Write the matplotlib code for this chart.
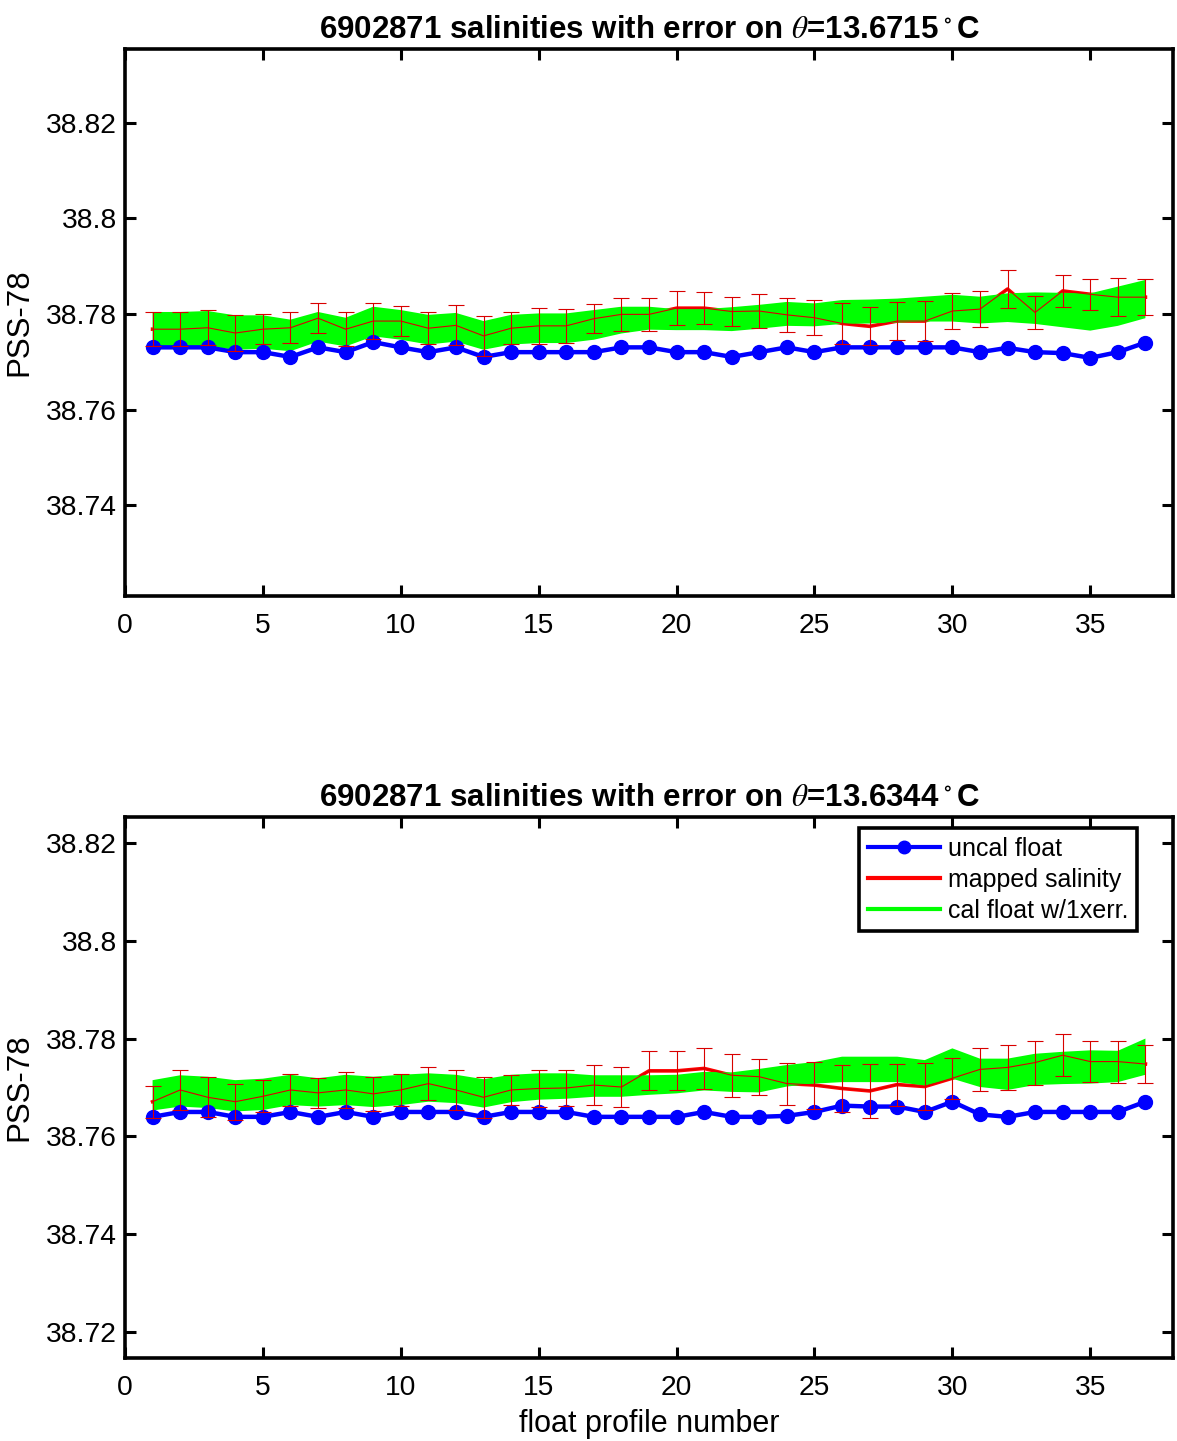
import numpy as np
import matplotlib
matplotlib.use('Agg')
import matplotlib.pyplot as plt
from matplotlib.ticker import FormatStrFormatter
from matplotlib.lines import Line2D

plt.rcParams['font.family'] = ['Liberation Sans', 'DejaVu Sans']
plt.rcParams['mathtext.fontset'] = 'stix'

# profile numbers
profile_no = np.arange(1, 38)

# --- panel 1, theta = 13.6715
theta_1 = '13.6715'
uncal_1 = [38.773, 38.773, 38.773, 38.772, 38.772, 38.771, 38.773, 38.772, 38.7741, 38.773,
           38.772, 38.773, 38.771, 38.772, 38.772, 38.772, 38.772, 38.773, 38.773, 38.772,
           38.772, 38.771, 38.772, 38.773, 38.772, 38.773, 38.773, 38.773, 38.773, 38.773,
           38.772, 38.7729, 38.772, 38.7718, 38.7708, 38.772, 38.774]
mapped_1 = [38.7768, 38.7768, 38.7771, 38.7760, 38.7768, 38.7771, 38.7791, 38.7768, 38.7785, 38.7785,
            38.7770, 38.7776, 38.7754, 38.7770, 38.7775, 38.7775, 38.7790, 38.7799, 38.7799, 38.7812,
            38.7812, 38.7805, 38.7806, 38.7798, 38.7792, 38.7780, 38.7774, 38.7785, 38.7785, 38.7806,
            38.7810, 38.7852, 38.7803, 38.7848, 38.7841, 38.7835, 38.7835]
maperr_1 = [0.0036, 0.0036, 0.0037, 0.0037, 0.0031, 0.0032, 0.0031, 0.0036, 0.0037, 0.0032,
            0.0033, 0.0042, 0.0042, 0.0033, 0.0038, 0.0036, 0.0031, 0.0035, 0.0035, 0.0036,
            0.0033, 0.0031, 0.0036, 0.0036, 0.0037, 0.0042, 0.0040, 0.0039, 0.0042, 0.0037,
            0.0038, 0.0039, 0.0035, 0.0033, 0.0033, 0.0040, 0.0038]
cal_1 = [38.7768, 38.7768, 38.7769, 38.7761, 38.7762, 38.7755, 38.7773, 38.7762, 38.7784, 38.7777,
         38.7767, 38.7772, 38.7755, 38.7767, 38.7770, 38.7770, 38.7777, 38.7787, 38.7791, 38.7788,
         38.7788, 38.7789, 38.7794, 38.7800, 38.7798, 38.7804, 38.7805, 38.7807, 38.7810, 38.7812,
         38.7808, 38.7813, 38.7812, 38.7808, 38.7804, 38.7816, 38.7831]
calerr_1 = [0.0036, 0.0036, 0.0037, 0.0036, 0.0035, 0.0033, 0.0031, 0.0030, 0.0031, 0.0031,
            0.0031, 0.0030, 0.0030, 0.0031, 0.0031, 0.0031, 0.0031, 0.0028, 0.0024, 0.0022,
            0.0022, 0.0025, 0.0025, 0.0025, 0.0024, 0.0025, 0.0025, 0.0025, 0.0026, 0.0028,
            0.0028, 0.0030, 0.0033, 0.0036, 0.0039, 0.0041, 0.0040]

# --- panel 2, theta = 13.6344
theta_2 = '13.6344'
uncal_2 = [38.764, 38.765, 38.765, 38.764, 38.764, 38.765, 38.764, 38.765, 38.764, 38.765,
           38.765, 38.765, 38.764, 38.765, 38.765, 38.765, 38.764, 38.764, 38.764, 38.764,
           38.765, 38.764, 38.764, 38.7642, 38.765, 38.7663, 38.7661, 38.7661, 38.765, 38.7671,
           38.7645, 38.764, 38.765, 38.765, 38.765, 38.765, 38.7671]
mapped_2 = [38.7671, 38.7695, 38.7680, 38.7671, 38.7682, 38.7695, 38.7689, 38.7695, 38.7687, 38.7695,
            38.7708, 38.7695, 38.7680, 38.7695, 38.7698, 38.7699, 38.7705, 38.7701, 38.7734, 38.7734,
            38.7739, 38.7725, 38.7722, 38.7708, 38.7705, 38.7698, 38.7693, 38.7706, 38.7702, 38.7719,
            38.7737, 38.7741, 38.7751, 38.7766, 38.7753, 38.7753, 38.7748]
maperr_2 = [0.0033, 0.0041, 0.0041, 0.0037, 0.0033, 0.0032, 0.0030, 0.0036, 0.0035, 0.0032,
            0.0034, 0.0041, 0.0042, 0.0031, 0.0037, 0.0036, 0.0041, 0.0041, 0.0040, 0.0040,
            0.0042, 0.0044, 0.0037, 0.0043, 0.0048, 0.0049, 0.0055, 0.0043, 0.0048, 0.0042,
            0.0044, 0.0046, 0.0045, 0.0043, 0.0042, 0.0043, 0.0038]
cal_2 = [38.7684, 38.7693, 38.7690, 38.7683, 38.7686, 38.7695, 38.7690, 38.7695, 38.7691, 38.7695,
         38.7700, 38.7697, 38.7688, 38.7698, 38.7702, 38.7703, 38.7703, 38.7703, 38.7705, 38.7707,
         38.7713, 38.7711, 38.7714, 38.7724, 38.7730, 38.7737, 38.7737, 38.7737, 38.7730, 38.7749,
         38.7730, 38.7727, 38.7737, 38.7740, 38.7742, 38.7743, 38.7763]
calerr_2 = [0.0031, 0.0032, 0.0032, 0.0032, 0.0032, 0.0031, 0.0029, 0.0031, 0.0031, 0.0031,
            0.0029, 0.0029, 0.0029, 0.0028, 0.0027, 0.0026, 0.0022, 0.0022, 0.0020, 0.0019,
            0.0019, 0.0020, 0.0024, 0.0022, 0.0022, 0.0026, 0.0026, 0.0026, 0.0026, 0.0031,
            0.0029, 0.0032, 0.0032, 0.0033, 0.0034, 0.0032, 0.0037]

ylims = [(38.721, 38.8354), (38.7147, 38.8253)]
yticks = [[38.74, 38.76, 38.78, 38.80, 38.82], [38.72, 38.74, 38.76, 38.78, 38.80, 38.82]]

W, H = 1177, 1441
fig = plt.figure(figsize=(W / 100, H / 100), dpi=100)
# axes boxes in pixels: left, right, top, bottom
boxes = [(125, 1173, 49, 596), (125, 1173, 817, 1358)]


def panel(ax, uncal, mapped, maperr, cal, calerr, theta, ylim, yt):
    cal = np.array(cal)
    calerr = np.array(calerr)
    # thick mapped line below the fill
    ax.plot(profile_no, mapped, color='red', lw=2.6, zorder=1)
    xx = np.concatenate([profile_no, profile_no[::-1]])
    yy = np.concatenate([cal + calerr, (cal - calerr)[::-1]])
    ax.fill(xx, yy, color=(0, 1, 0), lw=0, zorder=2)
    ax.plot(profile_no, uncal, '-o', color=(0, 0, 1), lw=3.2, ms=10, zorder=3)
    ax.errorbar(profile_no, mapped, yerr=maperr, color=(0.85, 0, 0), lw=0.8,
                capsize=6, capthick=0.8, zorder=4)
    ax.set_xlim(0, 38)
    ax.set_ylim(*ylim)
    ax.set_xticks(range(0, 36, 5))
    ax.set_yticks(yt)
    ax.yaxis.set_major_formatter(FormatStrFormatter('%g'))
    ax.tick_params(direction='in', length=8, width=2.2, labelsize=20.3,
                   top=True, right=True, colors='black')
    ax.tick_params(axis='x', pad=12)
    ax.tick_params(axis='y', pad=6)
    for s in ax.spines.values():
        s.set_linewidth(2.6)
    ax.set_ylabel('PSS-78', fontsize=22.5, labelpad=8)
    ax.set_title('6902871 salinities with error on $\\theta$=' + theta + '$^{\\,\\circ}$C',
                 fontsize=22.5, fontweight='bold', pad=8)


axs = []
for (l, r, t, b) in boxes:
    axs.append(fig.add_axes([l / W, 1 - b / H, (r - l) / W, (b - t) / H]))

panel(axs[0], uncal_1, mapped_1, maperr_1, cal_1, calerr_1, theta_1, ylims[0], yticks[0])
panel(axs[1], uncal_2, mapped_2, maperr_2, cal_2, calerr_2, theta_2, ylims[1], yticks[1])
axs[1].set_xlabel('float profile number', fontsize=22, labelpad=6)

handles = [Line2D([], [], color=(0, 0, 1), lw=3, marker='o', ms=9),
           Line2D([], [], color='red', lw=3),
           Line2D([], [], color=(0, 1, 0), lw=3)]
leg = axs[1].legend(handles, ['uncal float', 'mapped salinity', 'cal float w/1xerr.'],
                    loc='upper right', bbox_to_anchor=(0.9656, 0.9797), borderaxespad=0,
                    fontsize=18, fancybox=False, framealpha=1, edgecolor='black',
                    handlelength=2.9, handletextpad=0.3, labelspacing=0.28,
                    borderpad=0.35)
leg.get_frame().set_linewidth(2.6)

fig.savefig('out.png', dpi=100)
